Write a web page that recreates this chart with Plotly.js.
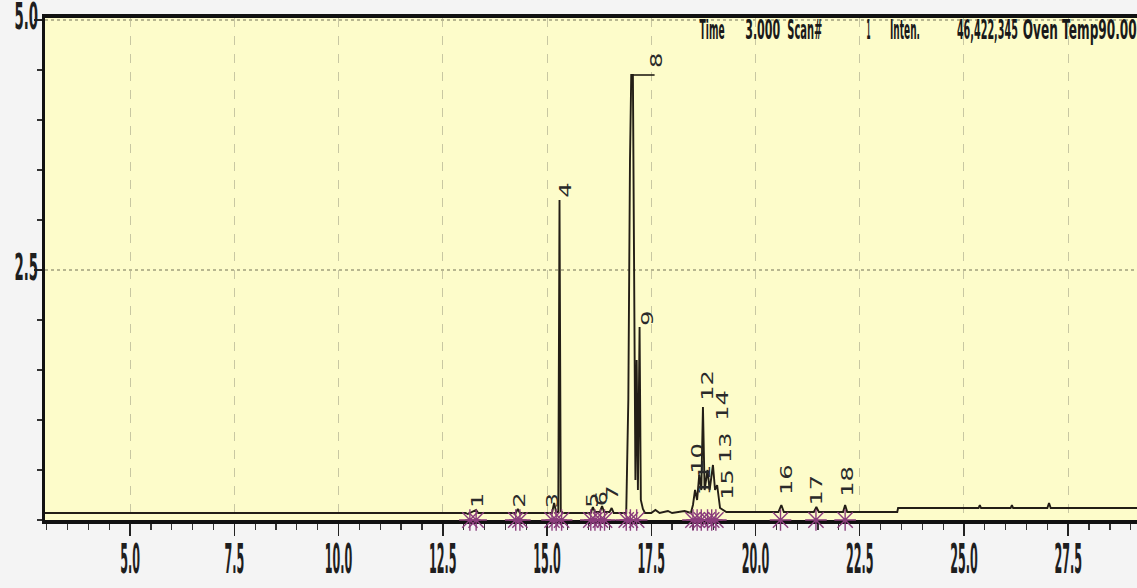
<!DOCTYPE html>
<html>
<head>
<meta charset="utf-8">
<script src="https://cdn.plot.ly/plotly-3.0.1.min.js"></script>
<style>
  html, body { margin: 0; padding: 0; background: #f4f4f4; }
  #chart { width: 1137px; height: 588px; }
</style>
</head>
<body>
<div id="chart"></div>
<script>
// Retention time (min) and total ion intensity (x10^7) of the chromatogram
const rtTime = [2.96, 13.05, 13.1, 13.3, 13.35, 14.25, 14.3, 14.35, 15.12, 15.17, 15.22, 15.27, 15.3, 15.33, 15.38,
  16.05, 16.1, 16.15, 16.27, 16.32, 16.37, 16.5, 16.55, 16.6, 16.9, 16.95, 16.99, 17.02, 17.06, 17.09, 17.12, 17.15,
  17.18, 17.22, 17.25, 17.3, 17.35, 17.5, 17.6, 17.7, 17.9, 18.0, 18.3, 18.45, 18.5, 18.55, 18.6, 18.65, 18.7, 18.74,
  18.78, 18.85, 18.9, 18.98, 19.03, 19.08, 19.15, 19.3, 20.55, 20.62, 20.68, 21.4, 21.46, 21.52, 22.1, 22.15, 22.2,
  23.4, 23.42, 25.35, 25.38, 25.41, 26.12, 26.15, 26.18, 27.0, 27.04, 27.08, 29.15];
const intensity = [0.07, 0.07, 0.06, 0.1, 0.07, 0.07, 0.11, 0.07, 0.07, 0.17, 0.08, 0.08, 3.2, 0.09, 0.07,
  0.07, 0.13, 0.08, 0.08, 0.14, 0.08, 0.08, 0.12, 0.07, 0.07, 1.2, 3.6, 4.45, 4.45, 2.5, 0.4, 1.6,
  0.3, 1.93, 0.2, 0.11, 0.07, 0.07, 0.1, 0.07, 0.09, 0.07, 0.09, 0.07, 0.15, 0.3, 0.2, 0.45, 0.3, 1.13,
  0.3, 0.5, 0.3, 0.55, 0.3, 0.35, 0.12, 0.08, 0.08, 0.15, 0.08, 0.08, 0.13, 0.08, 0.08, 0.15, 0.08,
  0.08, 0.12, 0.12, 0.15, 0.12, 0.12, 0.15, 0.12, 0.12, 0.17, 0.12, 0.12];

// Leader line for the label of the saturated peak 8
const leaderTime = [17.04, 17.58];
const leaderInt = [4.45, 4.45];

// Peak start / end markers on the baseline
const markTime = [13.15, 13.3, 14.25, 14.35, 15.12, 15.22, 15.35, 16.05, 16.15, 16.28, 16.38, 16.9, 17.0, 17.15,
  18.5, 18.6, 18.7, 18.85, 18.95, 19.05, 20.6, 21.45, 22.15];
const markInt = markTime.map(() => 0);

// Peak number labels
const peakLabels = ['1','2','3','4','5','6','7','8','9','10','11','12','13','14','15','16','17','18'];
const labelTime = [13.35, 14.35, 15.15, 15.45, 16.1, 16.33, 16.58, 17.64, 17.42, 18.62, 18.8, 18.86, 19.3, 19.22, 19.34, 20.76, 21.47, 22.22];
const labelInt = [0.2, 0.2, 0.2, 3.3, 0.2, 0.22, 0.27, 4.6, 2.02, 0.62, 0.4, 1.35, 0.72, 1.15, 0.36, 0.4, 0.3, 0.38];

// Header texts (centre pixel and width of each)
const headerTexts = ['Time', '3.000', 'Scan#', '1', 'Inten.', '46,422,345', 'Oven Temp90.00'];
const headerCentre = [712, 762, 805, 868, 905, 987, 1080];
const headerWidth = [25, 35, 35, 4, 30, 61, 114];

// Axis ticks
const xTickVals = [5.0, 7.5, 10.0, 12.5, 15.0, 17.5, 20.0, 22.5, 25.0, 27.5];
const xTickText = ['5.0', '7.5', '10.0', '12.5', '15.0', '17.5', '20.0', '22.5', '25.0', '27.5'];
const yTickVals = [2.5, 5.0];
const yTickText = ['2.5', '5.0'];

const FONT = '"DejaVu Sans", sans-serif';

const traces = [
  { x: rtTime, y: intensity, type: 'scatter', mode: 'lines',
    line: { color: '#231e16', width: 1.9 }, hoverinfo: 'x+y' },
  { x: leaderTime, y: leaderInt, type: 'scatter', mode: 'lines',
    line: { color: '#231e16', width: 1.6 }, hoverinfo: 'skip' },
  { x: markTime, y: markInt, type: 'scatter', mode: 'markers', cliponaxis: false,
    marker: { symbol: 'asterisk-open', size: 18, color: '#8b3d7c', line: { color: '#8b3d7c', width: 1.4 } },
    hoverinfo: 'skip' }
];

const L = 45, W = 1092;
const annotations = [];
for (let i = 0; i < peakLabels.length; i++) {
  annotations.push({ x: labelTime[i], y: labelInt[i], xref: 'x', yref: 'y', text: peakLabels[i],
    showarrow: false, textangle: -90, xanchor: 'center', yanchor: 'middle',
    font: { family: FONT, size: 15, color: '#2a2a2a' } });
}
for (let i = 0; i < headerTexts.length; i++) {
  annotations.push({ x: (headerCentre[i] - L) / W, y: 0.978, xref: 'paper', yref: 'paper', text: headerTexts[i],
    showarrow: false, xanchor: 'center', yanchor: 'middle',
    font: { family: FONT, size: 27, color: '#1a1a1a', weight: 'bold' } });
}

const layout = {
  width: 1137, height: 588,
  margin: { l: 45, r: 0, t: 18, b: 68 },
  paper_bgcolor: '#f4f4f4',
  plot_bgcolor: '#fdfcca',
  showlegend: false,
  xaxis: {
    range: [2.96, 29.15], tickvals: xTickVals, ticktext: xTickText,
    showline: true, linecolor: '#111', linewidth: 4, mirror: true, layer: 'below traces',
    ticks: 'outside', ticklen: 12, tickwidth: 1.5, tickcolor: '#222',
    minor: { dtick: 0.5, tick0: 0, ticks: 'outside', ticklen: 6, tickwidth: 1.2, tickcolor: '#333', showgrid: false },
    showgrid: true, gridcolor: '#c8c7a2', griddash: 'dash', gridwidth: 1,
    zeroline: false, ticklabeloverflow: 'allow',
    tickfont: { family: FONT, size: 40, color: '#1e1e1e', weight: 'bold' }
  },
  yaxis: {
    range: [0, 5.02], tickvals: yTickVals, ticktext: yTickText,
    showline: true, linecolor: '#111', linewidth: 3,
    ticks: 'outside', ticklen: 8, tickwidth: 1.5, tickcolor: '#222',
    minor: { dtick: 0.5, tick0: 0, ticks: 'outside', ticklen: 5, tickwidth: 1.2, tickcolor: '#333', showgrid: false },
    showgrid: true, gridcolor: '#b7b690', griddash: 'dot', gridwidth: 1.2,
    zeroline: false, ticklabeloverflow: 'allow',
    tickfont: { family: FONT, size: 37, color: '#1e1e1e', weight: 'bold' }
  },
  annotations: annotations
};

function fitText(el, length) {
  el.setAttribute('textLength', length.toFixed(1));
  el.setAttribute('lengthAdjust', 'spacingAndGlyphs');
}
// move a tick label's group so that its box lands where the original display puts it
function place(el, wantX, wantY, mode) {
  const r = el.getBoundingClientRect();
  const dx = wantX === null ? 0 : (mode === 'right' ? wantX - r.right : wantX - (r.left + r.right) / 2);
  const dy = wantY - (r.top + r.bottom) / 2;
  el.parentNode.setAttribute('transform', 'translate(' + dx.toFixed(1) + ',' + dy.toFixed(1) + ')');
}
// shrink an annotation's (invisible) box to the compressed text
function fitBox(g, oldLen, newLen) {
  const rect = g.querySelector('rect');
  if (!rect) return;
  const w = parseFloat(rect.getAttribute('width'));
  const x = parseFloat(rect.getAttribute('x') || 0);
  const nw = Math.max(1, w - (oldLen - newLen));
  rect.setAttribute('x', (x + (w - nw) / 2).toFixed(1));
  rect.setAttribute('width', nw.toFixed(1));
}

Plotly.newPlot('chart', traces, layout, { staticPlot: true, displayModeBar: false }).then(gd => {
  // The original display uses a very narrow, tall typeface: compress glyphs horizontally.
  gd.querySelectorAll('g.xtick > text').forEach(el => {
    fitText(el, el.getComputedTextLength() * 0.28);
    place(el, null, 559, 'centre');
  });
  const yTickCentre = { '2.5': 268, '5.0': 17 };
  gd.querySelectorAll('g.ytick > text').forEach(el => {
    fitText(el, el.getComputedTextLength() * 0.36);
    const c = yTickCentre[el.textContent.trim()];
    if (c !== undefined) place(el, 38, c, 'right');
  });
  gd.querySelectorAll('.annotation').forEach(g => {
    const idx = +g.getAttribute('data-index');
    const t = g.querySelector('.annotation-text');
    if (!t) return;
    const oldLen = t.getComputedTextLength();
    const newLen = idx < peakLabels.length ? oldLen * 1.6 : headerWidth[idx - peakLabels.length];
    fitText(t, newLen);
    if (newLen < oldLen) fitBox(g, oldLen, newLen);
  });
});
</script>
</body>
</html>
